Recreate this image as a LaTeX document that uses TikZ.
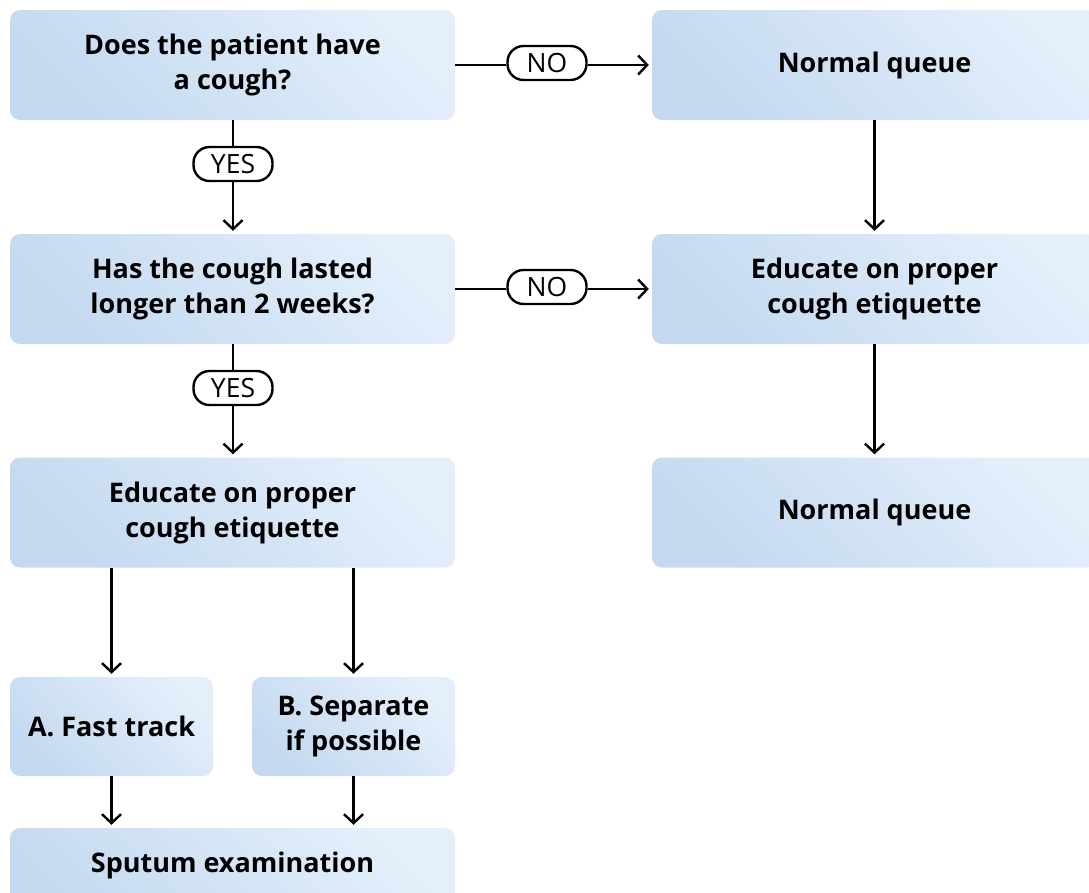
\documentclass[tikz,border=0pt]{standalone}
\usepackage{fontspec}
\setmainfont{Open Sans}
\usetikzlibrary{arrows.meta}
\definecolor{boxdark}{HTML}{C4D9F0}
\definecolor{boxlight}{HTML}{E4EFFB}
\tikzset{
  box/.style={rounded corners=10pt, top color=boxlight, bottom color=boxdark, shading angle=-45,
    align=center, font=\bfseries\fontsize{27}{35}\selectfont, inner sep=0pt},
  pill/.style={rectangle, rounded corners=16pt, draw, line width=2.4pt, fill=white, minimum width=79pt,
    minimum height=34pt, inner sep=0pt, font=\fontsize{26.5}{28}\selectfont},
  conn/.style={line width=2.4pt},
  arr/.style={line width=2.4pt, -{Straight Barb[length=9pt,width=19pt,line width=2.4pt]}, shorten >=3pt},
}
\begin{document}
\begin{tikzpicture}[x=1pt,y=-1pt]
\useasboundingbox (0,0) rectangle (1089,892);
\clip (0,0) rectangle (1089,892);
% boxes
\node[box, minimum width=445pt, minimum height=110pt] (q1) at (232.5,65) {Does the patient have\\a cough?};
\node[box, minimum width=445pt, minimum height=110pt] (n1) at (874.5,65) {Normal queue};
\node[box, minimum width=445pt, minimum height=110pt] (q2) at (232.5,289) {Has the cough lasted\\longer than 2 weeks?};
\node[box, minimum width=445pt, minimum height=110pt] (e1) at (874.5,289) {Educate on proper\\cough etiquette};
\node[box, minimum width=445pt, minimum height=110pt] (e2) at (232.5,512.5) {Educate on proper\\cough etiquette};
\node[box, minimum width=445pt, minimum height=110pt] (n2) at (874.5,512.5) {Normal queue};
\node[box, minimum width=203pt, minimum height=99pt] (a) at (111.5,726.5) {A. Fast track};
\node[box, minimum width=203pt, minimum height=99pt] (b) at (353.5,726.5) {B. Separate\\if possible};
\node[box, minimum width=445pt, minimum height=110pt] (s) at (232.5,883) {};
\node[font=\bfseries\fontsize{27}{35}\selectfont, anchor=base] (st) at (232.5,872) {Sputum examination};
% labels
\node[pill] (no1) at (547,63) {NO};
\node[pill] (no2) at (547,287) {NO};
\node[pill] (yes1) at (233,164) {YES};
\node[pill] (yes2) at (233,388) {YES};
% connectors
\draw[conn] (q1.east) -- (q1.east -| no1.west);
\draw[arr] (no1.east |- n1.west) -- (n1.west);
\draw[conn] (q2.east) -- (q2.east -| no2.west);
\draw[arr] (no2.east |- e1.west) -- (e1.west);
\draw[conn] (q1.south -| yes1) -- (yes1.north);
\draw[arr] (yes1.south) -- (q2.north -| yes1);
\draw[conn] (q2.south -| yes2) -- (yes2.north);
\draw[arr] (yes2.south) -- (e2.north -| yes2);
\draw[arr] (n1.south) -- (e1.north);
\draw[arr] (e1.south) -- (n2.north);
\draw[arr] (e2.south -| a) -- (a.north);
\draw[arr] (e2.south -| b) -- (b.north);
\draw[arr] (a.south) -- (s.north -| a);
\draw[arr] (b.south) -- (s.north -| b);
\end{tikzpicture}
\end{document}
